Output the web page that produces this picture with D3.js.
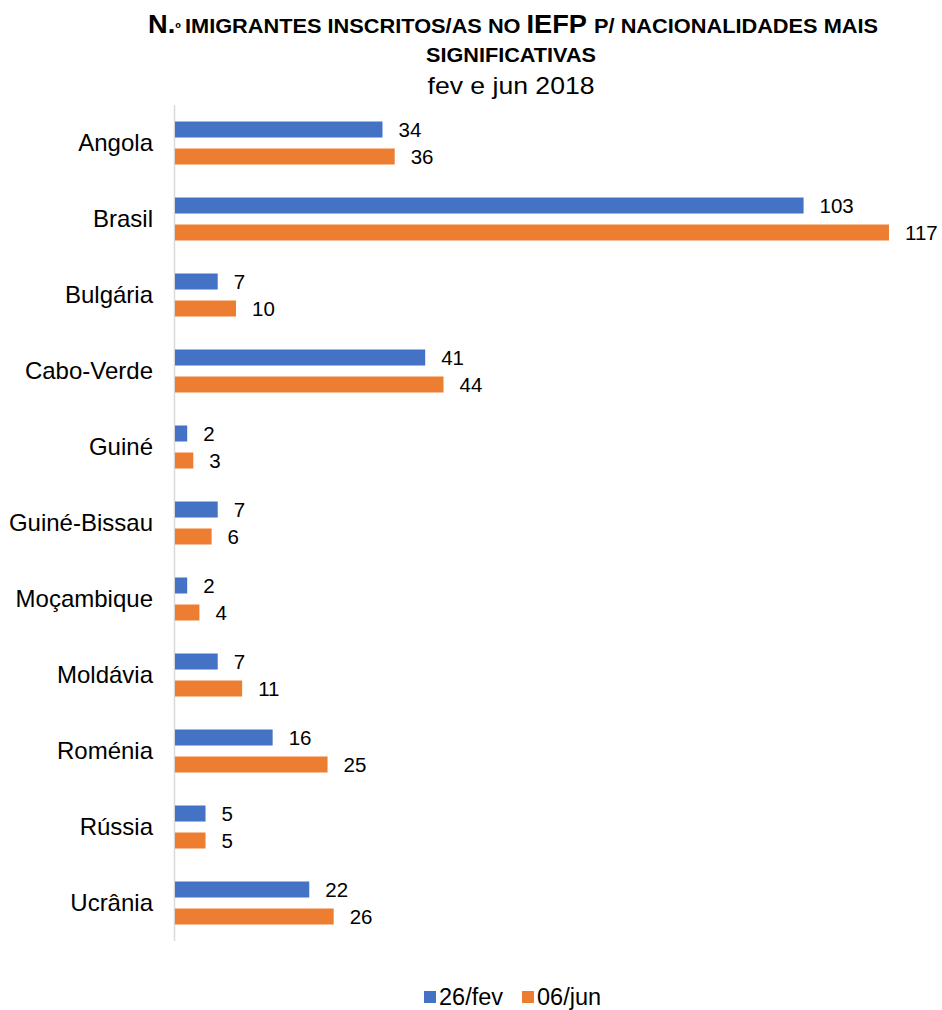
<!DOCTYPE html>
<html>
<head>
<meta charset="utf-8">
<script src="https://cdn.jsdelivr.net/npm/d3@7"></script>
<style>
  body { margin: 0; background: #fff; }
  svg { display: block; font-family: "Liberation Sans", Arial, sans-serif; }
</style>
</head>
<body>
<div id="chart"></div>
<script>
// Data
const countries = ["Angola", "Brasil", "Bulgária", "Cabo-Verde", "Guiné", "Guiné-Bissau",
    "Moçambique", "Moldávia", "Roménia", "Rússia", "Ucrânia"];
const seriesNames = ["26/fev", "06/jun"];
const fevValues = [34, 103, 7, 41, 2, 7, 2, 7, 16, 5, 22];
const junValues = [36, 117, 10, 44, 3, 6, 4, 11, 25, 5, 26];
const colors = ["#4472C4", "#ED7D31"];

const width = 942, height = 1010;
const margin = { top: 105, right: 53, bottom: 69, left: 175 };

const svg = d3.select("#chart").append("svg")
    .attr("width", width)
    .attr("height", height);

// Title (condensed look via textLength)
const title = svg.append("g").attr("font-weight", "bold").attr("fill", "#000");

const line1 = title.append("text")
    .attr("x", 513).attr("y", 33)
    .attr("text-anchor", "middle")
    .attr("textLength", 730)
    .attr("lengthAdjust", "spacingAndGlyphs");
const parts = [
    ["N.", 25], ["º ", 14], ["IMIGRANTES INSCRITOS/AS NO ", 20], ["IEFP ", 25],
    ["P/ NACIONALIDADES MAIS", 20]
];
parts.forEach(p => line1.append("tspan").attr("font-size", p[1] + "px").text(p[0]));

title.append("text")
    .attr("x", 511).attr("y", 62)
    .attr("text-anchor", "middle")
    .attr("font-size", "20px")
    .attr("textLength", 170)
    .attr("lengthAdjust", "spacingAndGlyphs")
    .text("SIGNIFICATIVAS");

svg.append("text")
    .attr("x", 511).attr("y", 94)
    .attr("text-anchor", "middle")
    .attr("font-size", "24px")
    .attr("textLength", 167)
    .attr("lengthAdjust", "spacingAndGlyphs")
    .text("fev e jun 2018");

// Scales
const x = d3.scaleLinear().domain([0, 117]).range([margin.left, 889]);
const y = d3.scaleBand().domain(countries).range([margin.top, height - margin.bottom]);
const inner = d3.scaleBand().domain(seriesNames).range([0, y.bandwidth()])
    .paddingInner(0.407).paddingOuter(0.611);

// Axis line
svg.append("line")
    .attr("x1", margin.left - 0.5).attr("x2", margin.left - 0.5)
    .attr("y1", margin.top).attr("y2", height - margin.bottom)
    .attr("stroke", "#d9d9d9").attr("stroke-width", 1.5);

// Category labels
svg.append("g").selectAll("text")
    .data(countries)
    .join("text")
    .attr("x", 153)
    .attr("y", d => y(d) + y.bandwidth() / 2)
    .attr("dy", "0.35em")
    .attr("text-anchor", "end")
    .attr("font-size", "24px")
    .attr("fill", "#000")
    .text(d => d);

// Bars
const series = [fevValues, junValues];
series.forEach((vals, si) => {
    const g = svg.append("g");
    g.selectAll("rect")
        .data(countries)
        .join("rect")
        .attr("x", x(0))
        .attr("y", d => y(d) + inner(seriesNames[si]))
        .attr("width", (d, i) => x(vals[i]) - x(0))
        .attr("height", inner.bandwidth())
        .attr("fill", colors[si]);
    g.selectAll("text")
        .data(countries)
        .join("text")
        .attr("x", (d, i) => x(vals[i]) + 16)
        .attr("y", d => y(d) + inner(seriesNames[si]) + inner.bandwidth() / 2)
        .attr("dy", "0.35em")
        .attr("font-size", "20.5px")
        .attr("fill", "#000")
        .text((d, i) => vals[i]);
});

// Legend
const legend = svg.append("g").attr("transform", "translate(424,997)");
const legendX = [0, 98];
seriesNames.forEach((s, i) => {
    legend.append("rect")
        .attr("x", legendX[i]).attr("y", -6)
        .attr("width", 12).attr("height", 12)
        .attr("fill", colors[i]);
    legend.append("text")
        .attr("x", legendX[i] + 15).attr("y", 0)
        .attr("dy", "0.35em")
        .attr("font-size", "23.5px")
        .attr("fill", "#000")
        .text(s);
});
</script>
</body>
</html>
